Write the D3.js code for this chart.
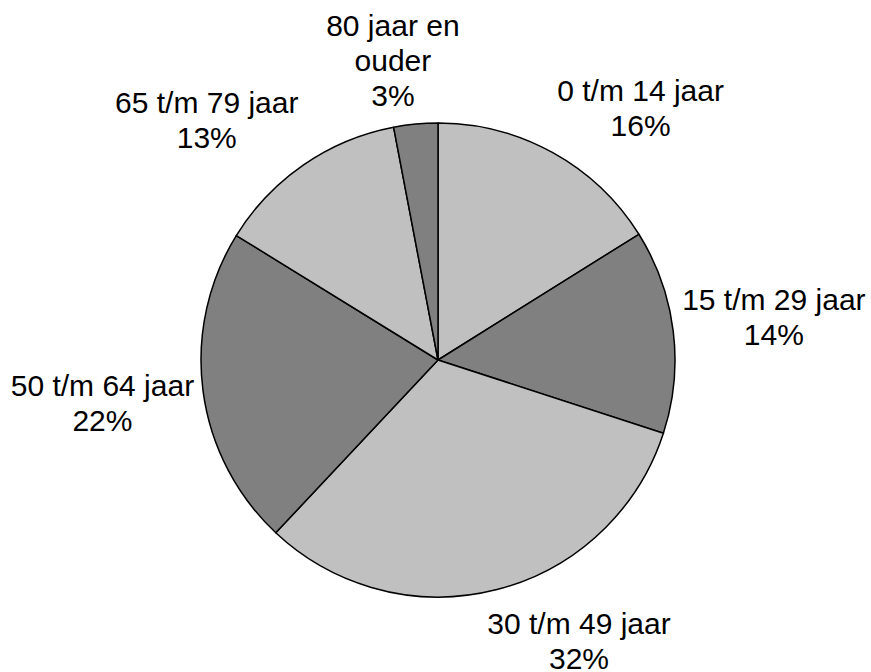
<!DOCTYPE html>
<html>
<head>
<meta charset="utf-8">
<script src="https://cdn.jsdelivr.net/npm/d3@7"></script>
<style>
  body { margin: 0; background: #fff; }
  svg { display: block; }
</style>
</head>
<body>
<svg id="chart" width="871" height="672"></svg>
<script>
'use strict';

// leeftijdsgroepen (share in %)
const categories = ["0 t/m 14 jaar", "15 t/m 29 jaar", "30 t/m 49 jaar", "50 t/m 64 jaar", "65 t/m 79 jaar", "80 jaar en\nouder"];
const values = [16.1, 13.9, 32.0, 21.8, 13.2, 3.0];
const fills = ["#c0c0c0", "#808080", "#c0c0c0", "#808080", "#c0c0c0", "#808080"];

const width = 871, height = 672;
const cx = 438, cy = 360, radius = 237;
const fontSize = 30, lineH = 35;

const svg = d3.select("#chart");
const g = svg.append("g").attr("transform", "translate(" + cx + "," + cy + ")");

const pie = d3.pie().sort(null).value(d => d.value);
const arcs = pie(categories.map((c, i) => ({ name: c, value: values[i], fill: fills[i] })));

const arc = d3.arc().innerRadius(0).outerRadius(radius);

g.selectAll("path.slice")
  .data(arcs)
  .enter().append("path")
  .attr("class", "slice")
  .attr("d", arc)
  .attr("fill", d => d.data.fill)
  .attr("stroke", "#000")
  .attr("stroke-width", 1.5)
  .attr("stroke-linejoin", "round");

// labels: nearest corner of the label box sits on the mid-angle ray, just outside the pie
const clamp = v => Math.max(-1, Math.min(1, v));
const labels = g.selectAll("g.label")
  .data(arcs)
  .enter().append("g")
  .attr("class", "label");

labels.each(function(d) {
  const lines = d.data.name.split("\n").concat([Math.round(d.data.value) + "%"]);
  const t = d3.select(this).append("text")
    .attr("font-family", "'Liberation Sans', Arial, sans-serif")
    .attr("font-size", fontSize)
    .attr("fill", "#000")
    .attr("text-anchor", "middle");
  lines.forEach((l, i) => {
    t.append("tspan").attr("x", 0).attr("y", i * lineH).text(l);
  });
  const bb = t.node().getBBox();
  const w = bb.width, h = lines.length * lineH;
  const a = (d.startAngle + d.endAngle) / 2;
  const dx = Math.sin(a), dy = -Math.cos(a);
  const ax = dx * (radius + 9), ay = dy * (radius + 9);
  const bx = ax + clamp(dx * 3.5) * w / 2;
  let by = ay + clamp(dy * 2.5) * h / 2;
  if (dy > 0) by += 10 * dy; // a bit more room below the pie
  const top = by - h / 2;
  d3.select(this).attr("transform", "translate(" + bx + "," + (top + lineH / 2 + fontSize * 0.35 - 2) + ")");
});
</script>
</body>
</html>
